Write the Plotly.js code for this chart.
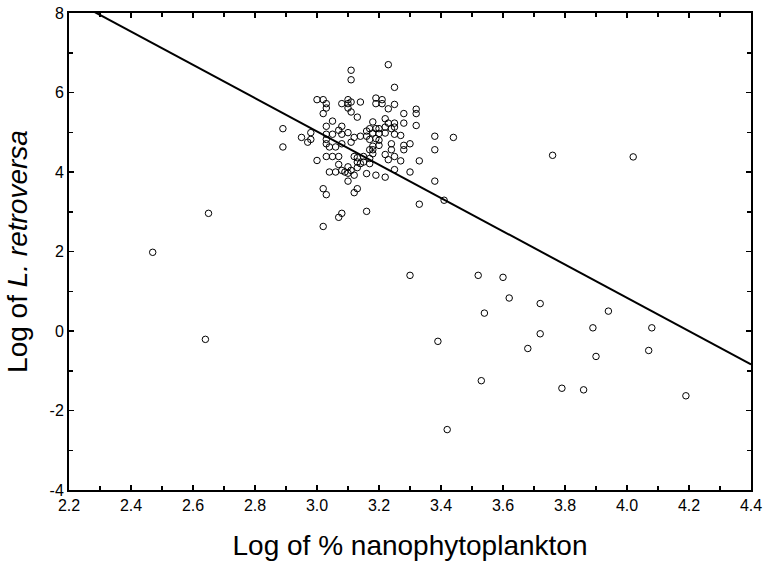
<!DOCTYPE html>
<html>
<head>
<meta charset="utf-8">
<script src="https://cdn.plot.ly/plotly-3.0.1.min.js"></script>
<style>html,body{margin:0;padding:0;background:#fff;}#chart{width:765px;height:564px;}</style>
</head>
<body>
<div id="chart"></div>
<script>
// Observations: log % nanophytoplankton (x) vs log L. retroversa (y)
const obsX = [
  3.11,3.11,3.00,3.02,3.03,3.03,3.02,3.08,3.10,3.10,3.11,3.14,3.10,3.11,3.13,3.05,
  3.23,3.25,3.19,3.21,3.19,3.21,3.23,3.25,3.28,3.32,3.32,3.18,3.22,3.23,3.25,3.28,3.32,
  2.89,2.89,2.95,2.98,2.98,2.97,3.03,3.08,3.07,3.05,3.03,3.03,3.03,3.04,3.08,3.10,3.08,
  3.11,3.12,3.14,3.16,3.16,3.00,3.03,3.05,3.07,3.06,3.07,3.12,3.13,3.15,3.13,3.14,3.15,
  3.10,3.11,3.13,3.04,3.06,3.08,3.09,3.10,3.12,3.10,3.16,3.02,
  3.03,3.13,3.12,3.08,3.07,3.16,3.02,
  3.17,3.19,3.20,3.22,3.24,3.25,3.18,3.20,3.22,3.25,3.27,3.38,3.44,3.17,3.19,3.20,3.24,
  3.28,3.30,3.18,3.20,3.17,3.18,3.24,3.28,3.38,3.18,3.22,3.25,3.17,3.23,3.27,3.33,3.17,
  3.25,3.30,3.19,3.22,3.38,3.33,3.41,
  2.47,2.65,2.64,3.76,4.02,3.30,3.52,3.60,3.62,3.72,3.54,3.94,3.89,4.08,3.39,3.72,
  3.68,3.90,4.07,3.53,3.79,3.86,4.19,3.42
];
const obsY = [
  6.56,6.32,5.82,5.82,5.72,5.61,5.47,5.72,5.82,5.72,5.76,5.76,5.61,5.51,5.38,5.28,
  6.70,6.13,5.86,5.82,5.72,5.72,5.59,5.70,5.47,5.58,5.47,5.26,5.34,5.23,5.23,5.23,5.17,
  5.09,4.63,4.87,4.99,4.82,4.75,5.15,5.15,5.05,4.95,4.95,4.71,4.82,4.63,4.95,4.99,4.71,
  4.75,4.87,4.90,5.03,4.90,4.29,4.39,4.39,4.39,4.63,4.19,4.39,4.36,4.39,4.25,4.21,4.25,
  4.13,4.04,4.11,4.00,4.00,4.04,4.00,3.97,3.92,3.77,3.96,3.58,
  3.43,3.58,3.48,2.96,2.86,3.01,2.63,
  5.09,5.09,5.09,5.13,5.09,5.13,4.98,4.97,4.98,4.95,4.92,4.90,4.87,4.82,4.84,4.80,4.71,
  4.67,4.71,4.65,4.67,4.56,4.56,4.56,4.56,4.56,4.46,4.44,4.39,4.34,4.31,4.28,4.28,4.21,
  4.06,4.00,3.92,3.87,3.77,3.19,3.29,
  1.98,2.96,-0.21,4.42,4.38,1.40,1.40,1.35,0.83,0.69,0.45,0.50,0.08,0.08,-0.26,-0.07,
  -0.44,-0.64,-0.49,-1.25,-1.44,-1.48,-1.63,-2.48
];
// Fitted regression line
const fitX = [2.2, 4.4];
const fitY = [8.37, -0.84];
// Tick labels
const xTickVals = [2.2,2.4,2.6,2.8,3.0,3.2,3.4,3.6,3.8,4.0,4.2,4.4];
const xTickText = ['2.2','2.4','2.6','2.8','3.0','3.2','3.4','3.6','3.8','4.0','4.2','4.4'];
const yTickVals = [-4,-2,0,2,4,6,8];
const yTickText = ['-4','-2','0','2','4','6','8'];

const FONT = 'Liberation Sans, Arial, Helvetica, sans-serif';

const traces = [
  {
    x: obsX, y: obsY, type: 'scatter', mode: 'markers',
    marker: {symbol: 'circle-open', size: 6.5, color: '#000', line: {width: 1, color: '#000'}},
    hoverinfo: 'skip', showlegend: false
  },
  {
    x: fitX, y: fitY, type: 'scatter', mode: 'lines',
    line: {color: '#000', width: 2},
    hoverinfo: 'skip', showlegend: false
  }
];

const axisCommon = {
  showgrid: false, zeroline: false,
  showline: true, linecolor: '#000', linewidth: 2, mirror: 'ticks',
  ticks: 'inside', ticklen: 5, tickwidth: 1.5, tickcolor: '#000',
  tickfont: {family: FONT, size: 16, color: '#000'},
  tickmode: 'array'
};

const layout = {
  width: 765, height: 564,
  margin: {l: 69, r: 14, t: 13, b: 74},
  paper_bgcolor: '#fff', plot_bgcolor: '#fff',
  font: {family: FONT, color: '#000'},
  xaxis: Object.assign({}, axisCommon, {
    range: [2.2, 4.4], tickvals: xTickVals, ticktext: xTickText,
    minor: {dtick: 0.1, tick0: 2.2, ticks: 'inside', ticklen: 4, tickwidth: 1.5, tickcolor: '#000'},
    title: {text: 'Log of % nanophytoplankton', font: {family: FONT, size: 28, color: '#000'}, standoff: 22}
  }),
  yaxis: Object.assign({}, axisCommon, {
    range: [-4, 8], tickvals: yTickVals, ticktext: yTickText,
    minor: {dtick: 1, tick0: -4, ticks: 'inside', ticklen: 4, tickwidth: 1.5, tickcolor: '#000'},
    title: {text: 'Log of <i>L. retroversa</i>', font: {family: FONT, size: 28, color: '#000'}, standoff: 14}
  })
};

Plotly.newPlot('chart', traces, layout, {displayModeBar: false, staticPlot: true});
</script>
</body>
</html>
